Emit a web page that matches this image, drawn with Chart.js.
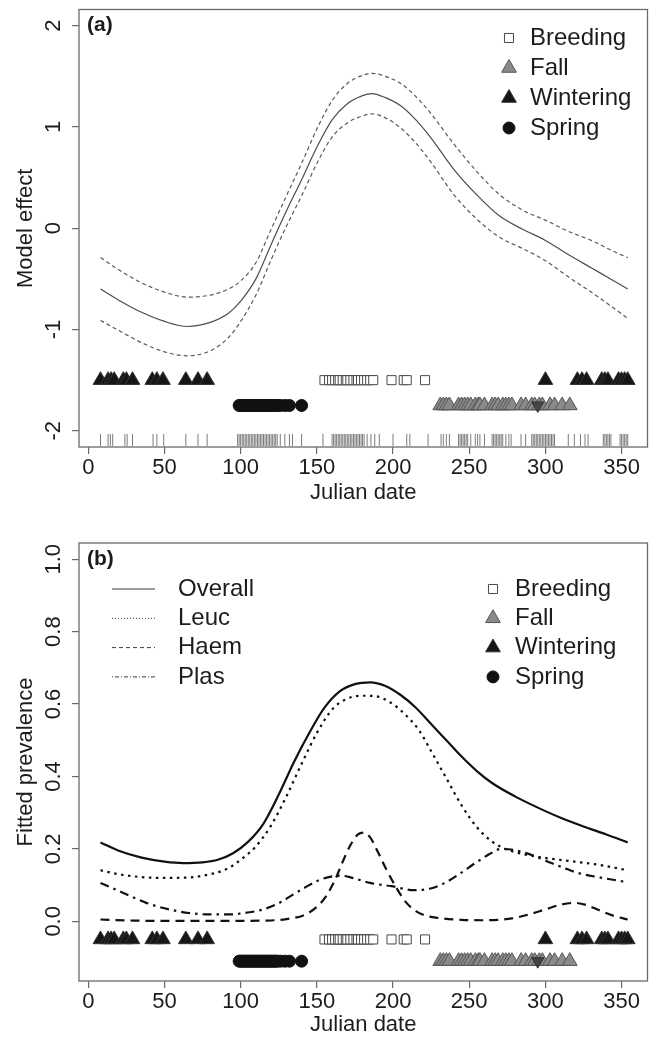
<!DOCTYPE html>
<html>
<head>
<meta charset="utf-8">
<script src="https://cdn.jsdelivr.net/npm/chart.js@4.4.1/dist/chart.umd.min.js"></script>
<style>
  html, body { margin: 0; padding: 0; background: #fff; }
  #wrap { position: relative; width: 657px; height: 1042px; }
  canvas { position: absolute; left: 0; }
  #chartA { top: 0; }
  #chartB { top: 520px; }
</style>
</head>
<body>
<div id="wrap">
  <canvas id="chartA" width="657" height="520"></canvas>
  <canvas id="chartB" width="657" height="522"></canvas>
</div>
<script>
// ---- axes ----
const xTicks = [0, 50, 100, 150, 200, 250, 300, 350];
const yTicksA = [-2, -1, 0, 1, 2];
const yTicksB = [0, 0.2, 0.4, 0.6, 0.8, 1.0];
const yLabelsB = ["0.0", "0.2", "0.4", "0.6", "0.8", "1.0"];

// ---- (a) model effect of Julian date, with band ----
const effectDays = [8, 20, 35, 50, 65, 80, 92, 100, 110, 120, 130, 140, 150, 160, 170, 180, 186, 195, 205, 215, 225, 240, 255, 270, 285, 300, 315, 330, 345, 354];
const effectFit = [-0.60, -0.71, -0.83, -0.92, -0.97, -0.93, -0.84, -0.72, -0.50, -0.16, 0.17, 0.48, 0.80, 1.07, 1.23, 1.31, 1.33, 1.29, 1.21, 1.07, 0.89, 0.58, 0.33, 0.12, -0.01, -0.12, -0.26, -0.39, -0.52, -0.60];
const effectUpper = [-0.29, -0.41, -0.54, -0.63, -0.68, -0.66, -0.60, -0.52, -0.34, -0.01, 0.32, 0.64, 0.98, 1.26, 1.43, 1.51, 1.53, 1.50, 1.43, 1.30, 1.13, 0.83, 0.56, 0.33, 0.18, 0.08, -0.03, -0.12, -0.23, -0.29];
const effectLower = [-0.91, -1.01, -1.13, -1.22, -1.26, -1.21, -1.08, -0.92, -0.66, -0.31, 0.02, 0.32, 0.64, 0.90, 1.04, 1.11, 1.13, 1.09, 0.99, 0.84, 0.65, 0.33, 0.09, -0.09, -0.20, -0.32, -0.48, -0.63, -0.79, -0.89];

// ---- (b) fitted prevalence ----
const overallDays = [8, 20, 35, 50, 62, 75, 85, 95, 105, 115, 125, 135, 145, 155, 165, 175, 185, 195, 205, 215, 225, 235, 245, 255, 265, 280, 295, 310, 325, 340, 354];
const overallValues = [0.218, 0.195, 0.176, 0.165, 0.161, 0.163, 0.170, 0.188, 0.220, 0.270, 0.350, 0.440, 0.520, 0.590, 0.635, 0.655, 0.660, 0.650, 0.625, 0.590, 0.545, 0.500, 0.455, 0.415, 0.382, 0.345, 0.314, 0.286, 0.262, 0.240, 0.218];
const leucDays = [8, 20, 35, 50, 65, 80, 92, 100, 110, 120, 130, 140, 150, 160, 170, 180, 188, 198, 207, 217, 225, 235, 245, 255, 265, 275, 285, 300, 317, 335, 354];
const leucValues = [0.141, 0.130, 0.122, 0.120, 0.121, 0.130, 0.147, 0.170, 0.207, 0.265, 0.345, 0.435, 0.520, 0.585, 0.615, 0.623, 0.622, 0.605, 0.575, 0.528, 0.470, 0.395, 0.320, 0.260, 0.220, 0.198, 0.186, 0.175, 0.166, 0.156, 0.141];
const haemDays = [8, 30, 60, 90, 115, 130, 142, 150, 156, 162, 167, 172, 177, 181, 185, 190, 196, 202, 208, 215, 222, 230, 245, 260, 278, 290, 300, 310, 319, 327, 335, 345, 354];
const haemValues = [0.005, 0.002, 0.001, 0.001, 0.002, 0.006, 0.018, 0.040, 0.069, 0.115, 0.165, 0.210, 0.240, 0.245, 0.232, 0.192, 0.140, 0.094, 0.055, 0.028, 0.015, 0.009, 0.004, 0.003, 0.008, 0.020, 0.033, 0.046, 0.051, 0.045, 0.031, 0.015, 0.005];
const plasDays = [8, 20, 38, 50, 66, 80, 92, 104, 114, 125, 136, 145, 152, 160, 166, 175, 185, 199, 214, 224, 234, 244, 254, 263, 271, 279, 287, 296, 304, 312, 321, 336, 354];
const plasValues = [0.106, 0.084, 0.051, 0.036, 0.023, 0.019, 0.019, 0.024, 0.032, 0.050, 0.078, 0.100, 0.115, 0.124, 0.126, 0.118, 0.106, 0.097, 0.086, 0.090, 0.106, 0.132, 0.161, 0.185, 0.200, 0.197, 0.189, 0.175, 0.161, 0.148, 0.134, 0.121, 0.108];

// ---- sampling dates by season ----
const breedingDays = [155, 158, 160, 162, 164, 165, 167, 169, 170, 172, 174, 176, 177, 179, 181, 183, 185, 187, 199, 207, 209, 221];
const fallDays = [231, 233, 235, 237, 243, 245, 247, 249, 251, 254, 256, 257, 260, 265, 267, 269, 272, 274, 276, 278, 284, 287, 291, 293, 296, 298, 303, 306, 311, 316];
const fallDarkDays = [295];
const winteringDays = [8, 13, 15, 17, 23, 25, 29, 42, 45, 49, 64, 72, 78, 300, 321, 324, 327, 337, 339, 341, 348, 350, 352, 354];
const springDays = [99, 100, 101, 102, 103, 104, 105, 106, 107, 108, 109, 110, 111, 112, 113, 114, 115, 116, 117, 118, 119, 120, 121, 122, 123, 124, 126, 129, 132, 140];
const rugDays = [8, 13, 14.5, 16, 24, 25.5, 29, 42.5, 45, 49.5, 64, 72, 78,
  98, 99, 100, 101, 102, 103, 104, 105, 106, 107, 108, 109, 110, 111, 112, 113, 114, 115, 116, 117, 118, 119, 120, 121, 122, 123, 124, 126, 129, 132, 134, 140,
  154, 160, 161, 162, 163, 164, 165, 166, 167, 168, 169, 170, 171, 172, 173, 174, 175, 176, 177, 178, 179, 180, 181, 183, 185.5, 188, 191, 200, 209, 211, 223,
  231.5, 233, 235, 237, 243, 244, 245, 246, 247, 248, 249, 251, 254, 255.5, 257, 260, 265, 266, 267, 268, 269, 270, 271, 272, 274, 276, 277.5, 284, 287,
  291, 292, 293, 294, 295, 296, 297, 298, 299, 300, 301, 302, 303, 304, 305, 306, 315, 319, 323, 326, 328, 338, 339, 340, 341, 342, 343, 349, 350, 351, 352, 353, 354];

// row heights the seasons were plotted at
const rowsA = { upper: -1.5, lower: -1.75, rug: -2.09 };
const rowsB = { upper: -0.05, lower: -0.11 };

const FONT = "'Liberation Sans', Arial, Helvetica, sans-serif";
const INK = "#1c1c1c";
const FRAME = "#6a6a6a";

const seasonStyle = {
  Breeding: { pointStyle: "rect", fill: "#ffffff", stroke: "#4a4a4a", radius: 6.4, rotation: 0 },
  Fall: { pointStyle: "triangle", fill: "#8a8a8a", stroke: "#555555", radius: 8.5, rotation: 0 },
  Wintering: { pointStyle: "triangle", fill: "#161616", stroke: "#333333", radius: 8.5, rotation: 0 },
  Spring: { pointStyle: "circle", fill: "#111111", stroke: "#111111", radius: 6, rotation: 0 }
};
const curveStyle = {
  Overall: { dash: [], legendDash: [] },
  Leuc: { dash: [2.5, 4.5], legendDash: [1, 2] },
  Haem: { dash: [9, 6], legendDash: [4, 3] },
  Plas: { dash: [9, 5, 2.5, 5], legendDash: [1, 2, 4, 2] }
};

function pts(days, vals) {
  return days.map((d, i) => ({ x: d, y: vals[i] }));
}
function row(days, level) {
  return days.map(d => ({ x: d, y: level }));
}

function curve(label, days, vals, color, width, dash) {
  return {
    type: "line",
    label,
    data: pts(days, vals),
    borderColor: color,
    borderWidth: width,
    borderDash: dash,
    pointRadius: 0,
    fill: false,
    cubicInterpolationMode: "monotone"
  };
}

function marks(label, data, st, order) {
  return {
    type: "scatter",
    label,
    data,
    order: order || 0,
    pointStyle: st.pointStyle,
    pointRadius: st.radius,
    pointRotation: st.rotation,
    pointBackgroundColor: st.fill,
    pointBorderColor: st.stroke,
    pointBorderWidth: 1,
    showLine: false
  };
}

function rug(days, level) {
  return {
    type: "scatter",
    label: "rug",
    data: row(days, level),
    pointStyle: "line",
    pointRotation: 90,
    pointRadius: 6,
    pointBorderColor: "#7c7c7c",
    pointBorderWidth: 1,
    showLine: false
  };
}

function seasonSets(rows) {
  return [
    marks("Breeding", row(breedingDays, rows.upper), seasonStyle.Breeding),
    marks("Wintering", row(winteringDays, rows.upper), seasonStyle.Wintering),
    marks("Spring", row(springDays, rows.lower), seasonStyle.Spring),
    marks("Fall", row(fallDays, rows.lower), seasonStyle.Fall),
    marks("Fall", row(fallDarkDays, rows.lower), { pointStyle: "triangle", fill: "#454545", stroke: "#333333", radius: 7, rotation: 180 }, -1)
  ];
}

function axes(cfg) {
  const tickFont = { family: FONT, size: 22 };
  const titleFont = { family: FONT, size: 22 };
  const grid = { drawOnChartArea: false, drawTicks: true, tickLength: 7, color: FRAME, lineWidth: 1.2 };
  return {
    x: {
      type: "linear",
      min: -6.1,
      max: 367,
      afterBuildTicks: s => { s.ticks = xTicks.map(v => ({ value: v })); },
      afterFit: s => { s.height = cfg.xHeight; s.paddingLeft = 0; s.paddingRight = 0; },
      grid,
      border: { display: false },
      ticks: { padding: 1, color: INK, font: tickFont, maxRotation: 0, autoSkip: false, callback: v => String(v) },
      title: { display: true, text: "Julian date", color: INK, font: titleFont, padding: { top: 0, bottom: cfg.xTitlePad } }
    },
    y: {
      type: "linear",
      min: cfg.yMin,
      max: cfg.yMax,
      afterBuildTicks: s => { s.ticks = cfg.yTicks.map(v => ({ value: v })); },
      afterFit: s => { s.width = 79; s.paddingTop = 0; s.paddingBottom = 0; },
      grid,
      border: { display: false },
      ticks: { padding: cfg.yTickPad, minRotation: 90, maxRotation: 90, crossAlign: "center", color: INK, font: tickFont, autoSkip: false, callback: cfg.yFormat },
      title: { display: true, text: cfg.yTitle, color: INK, font: titleFont, padding: { top: 12.8, bottom: 0 } }
    }
  };
}

function drawMarker(ctx, st, x, y) {
  ctx.fillStyle = st.fill;
  ctx.strokeStyle = st.stroke;
  ctx.lineWidth = 1;
  Chart.helpers.drawPoint(ctx, { pointStyle: st.pointStyle, radius: st.radius, rotation: 0, borderWidth: 1 }, x, y);
}

// box, panel tag and the legends
const framePlugin = {
  id: "frame",
  afterDatasetsDraw(chart, args, opts) {
    const { ctx, chartArea: a } = chart;
    ctx.save();
    ctx.strokeStyle = FRAME;
    ctx.lineWidth = 1.3;
    ctx.setLineDash([]);
    ctx.strokeRect(a.left, a.top, a.right - a.left, a.bottom - a.top);

    ctx.fillStyle = INK;
    ctx.font = "bold 21px " + FONT;
    ctx.textBaseline = "middle";
    ctx.textAlign = "left";
    ctx.fillText(opts.tag, a.left + 8, a.top + 16);

    ctx.font = "24px " + FONT;
    (opts.pointLegend || []).forEach(lg => {
      lg.names.forEach((name, i) => {
        const y = lg.y + i * lg.step;
        drawMarker(ctx, seasonStyle[name], lg.markX, y);
        ctx.fillStyle = INK;
        ctx.fillText(name, lg.textX, y);
      });
    });
    (opts.lineLegend || []).forEach(lg => {
      lg.names.forEach((name, i) => {
        const y = lg.y + i * lg.step;
        ctx.strokeStyle = "#3a3a3a";
        ctx.lineWidth = 1;
        ctx.setLineDash(curveStyle[name].legendDash);
        ctx.beginPath();
        ctx.moveTo(lg.x0, y);
        ctx.lineTo(lg.x1, y);
        ctx.stroke();
        ctx.setLineDash([]);
        ctx.fillStyle = INK;
        ctx.fillText(name, lg.textX, y);
      });
    });
    ctx.restore();
  }
};

const seasonNames = ["Breeding", "Fall", "Wintering", "Spring"];
const curveNames = ["Overall", "Leuc", "Haem", "Plas"];

new Chart(document.getElementById("chartA"), {
  type: "scatter",
  data: {
    datasets: [
      curve("fit", effectDays, effectFit, "#4d4d4d", 1.2, []),
      curve("upper", effectDays, effectUpper, "#5a5a5a", 1.2, [4, 3]),
      curve("lower", effectDays, effectLower, "#5a5a5a", 1.2, [4, 3]),
      ...seasonSets(rowsA),
      rug(rugDays, rowsA.rug)
    ]
  },
  options: {
    responsive: false,
    animation: false,
    devicePixelRatio: 1,
    events: [],
    layout: { padding: { left: 0, right: 7, top: 9, bottom: 0 } },
    scales: axes({
      yMin: -2.16, yMax: 2.16, yTicks: yTicksA, yFormat: v => String(v),
      yTitle: "Model effect", yTickPad: 8.2, xHeight: 73, xTitlePad: 13.8
    }),
    plugins: {
      legend: { display: false },
      tooltip: { enabled: false },
      frame: {
        tag: "(a)",
        pointLegend: [{ names: seasonNames, markX: 509, textX: 530, y: 38, step: 30 }]
      }
    }
  },
  plugins: [framePlugin]
});

new Chart(document.getElementById("chartB"), {
  type: "scatter",
  data: {
    datasets: [
      curve("Overall", overallDays, overallValues, "#111111", 2.2, curveStyle.Overall.dash),
      curve("Leuc", leucDays, leucValues, "#111111", 2.2, curveStyle.Leuc.dash),
      curve("Haem", haemDays, haemValues, "#111111", 2.2, curveStyle.Haem.dash),
      curve("Plas", plasDays, plasValues, "#111111", 2.2, curveStyle.Plas.dash),
      ...seasonSets(rowsB)
    ]
  },
  options: {
    responsive: false,
    animation: false,
    devicePixelRatio: 1,
    events: [],
    layout: { padding: { left: 0, right: 7, top: 23, bottom: 0 } },
    scales: axes({
      yMin: -0.1648, yMax: 1.0448, yTicks: yTicksB, yFormat: (v, i) => yLabelsB[i],
      yTitle: "Fitted prevalence", yTickPad: 2.7, xHeight: 61, xTitlePad: 3.8
    }),
    plugins: {
      legend: { display: false },
      tooltip: { enabled: false },
      frame: {
        tag: "(b)",
        pointLegend: [{ names: seasonNames, markX: 493, textX: 515, y: 69, step: 29.3 }],
        lineLegend: [{ names: curveNames, x0: 112, x1: 155, textX: 178, y: 69, step: 29.3 }]
      }
    }
  },
  plugins: [framePlugin]
});
</script>
</body>
</html>
